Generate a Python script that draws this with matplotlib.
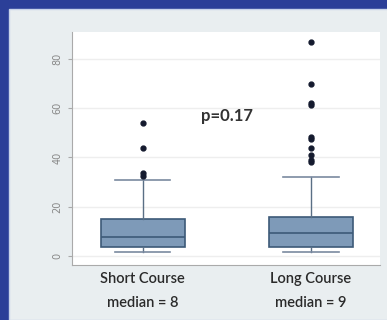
import numpy as np
import matplotlib.pyplot as plt
from matplotlib.patches import Rectangle

groups = ["Short Course", "Long Course"]
medians_lbl = ["median = 8", "median = 9"]
q1 = [3.7, 3.7]
med = [7.7, 9.3]
q3 = [15, 16]
whislo = [1.7, 1.7]
whishi = [31, 32]
fliers = [
    [32.5, 33.7, 44, 54],
    [38, 39, 41, 44, 47.5, 48.5, 61.5, 62, 70, 87],
]
yticks = [0, 20, 40, 60, 80]

stats = []
for i in range(2):
    stats.append(dict(med=med[i], q1=q1[i], q3=q3[i], whislo=whislo[i],
                      whishi=whishi[i], fliers=fliers[i], label=groups[i]))

fig = plt.figure(figsize=(3.87, 3.2), dpi=100)
fig.patch.set_facecolor("#2b3f98")
bg = Rectangle((9/387, 0), 1, 1 - 9/320, transform=fig.transFigure,
               facecolor="#e9eef0", edgecolor="#c8d4ea", lw=1, zorder=-10)
fig.add_artist(bg)

ax = fig.add_axes([72/387, 1 - 265/320, 308/387, 233/320])
ax.set_zorder(1)
ax.set_facecolor("white")
ax.bxp(stats, positions=[1, 2], widths=0.5, patch_artist=True, showfliers=True,
       boxprops=dict(facecolor="#7e9ab8", edgecolor="#3d5a78", lw=1.2),
       medianprops=dict(color="#3d5a78", lw=1.2),
       whiskerprops=dict(color="#5a6f85", lw=1),
       capprops=dict(color="#7a8aa0", lw=1.2),
       capwidths=0.33,
       flierprops=dict(marker="o", markersize=3.5, markerfacecolor="#141a2e",
                       markeredgecolor="#141a2e"))

ax.set_xlim(0.58, 2.41)
ax.set_ylim(-3.7, 91)
ax.set_yticks(yticks)
ax.set_yticklabels([str(t) for t in yticks], rotation=90, va="center",
                   fontsize=7, color="#888888")
ax.tick_params(axis="y", length=3, color="#aaaaaa", pad=4)
ax.set_xticks([1, 2])
ax.set_xticklabels([g + "\n" + m for g, m in zip(groups, medians_lbl)],
                   fontsize=10.5, color="#2a2a2a", linespacing=1.9,
                   family="Lato", fontweight="semibold")
ax.tick_params(axis="x", length=0, pad=5)
ax.grid(axis="y", color="#eeeeee", lw=1)
ax.set_axisbelow(True)
for s in ["top", "right"]:
    ax.spines[s].set_visible(False)
ax.spines["left"].set_color("#aaaaaa")
ax.spines["bottom"].set_color("#aaaaaa")

ax.text(1.5, 57, "p=0.17", ha="center", va="center", fontsize=12,
        fontweight="bold", color="#333333", family="Lato")

plt.savefig("out.png", dpi=100, facecolor=fig.get_facecolor())
